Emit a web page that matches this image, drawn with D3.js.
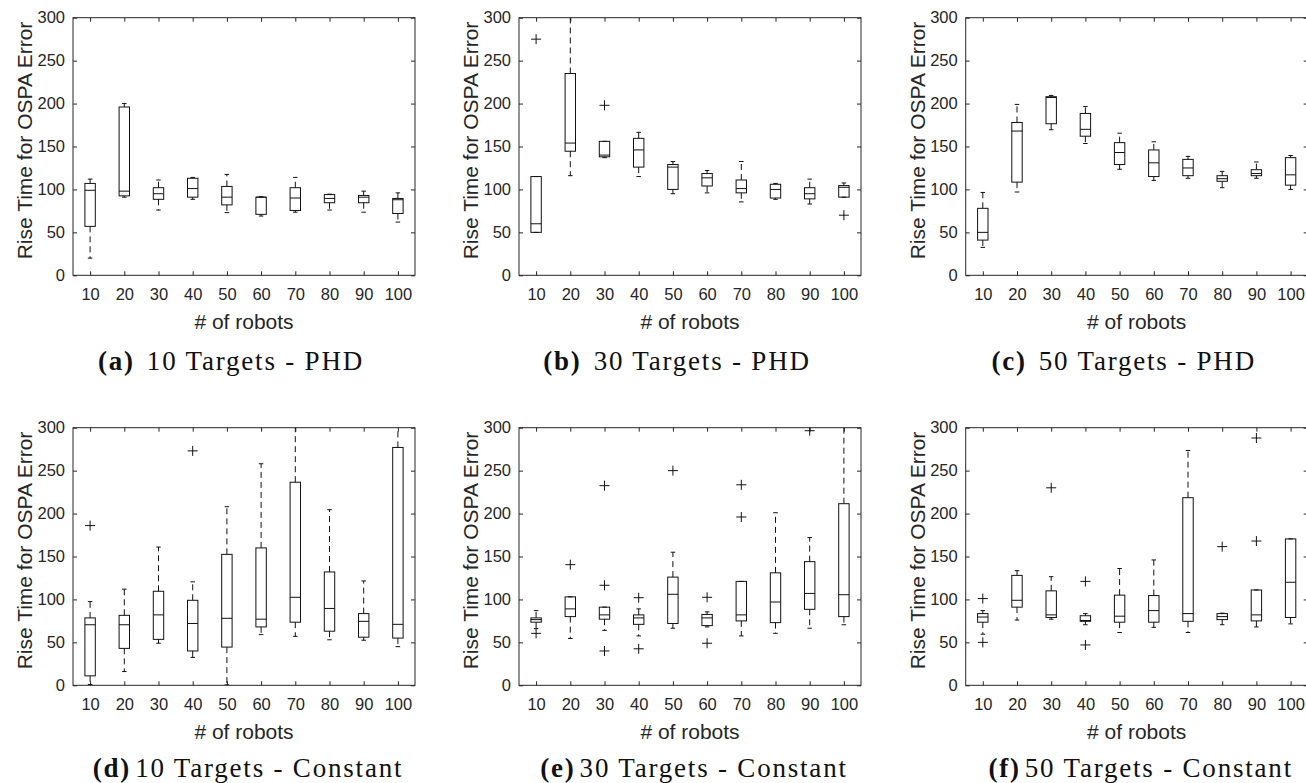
<!DOCTYPE html>
<html><head><meta charset="utf-8">
<script src="https://cdn.jsdelivr.net/npm/d3@7"></script>
<style>
body{margin:0;background:#fff;}
svg{display:block;}
</style>
</head><body>
<svg id="chart" width="1306" height="783"></svg>
<script>
// ---------- DATA ----------
const robots = [10, 20, 30, 40, 50, 60, 70, 80, 90, 100];
const yTicks = [0, 50, 100, 150, 200, 250, 300];
const yLabel = "Rise Time for OSPA Error";
const xLabel = "# of robots";

// each row: [lower whisker, Q1, median, Q3, upper whisker]
const phd10 = [
  [20, 57, 99, 107, 112], [91, 92.5, 98, 196, 200], [76, 88.5, 95, 102, 111],
  [88.5, 91, 101, 113, 114], [73, 82, 91, 103.5, 117.5], [69, 71, 91, 91, 91.5],
  [73.5, 75.5, 90, 102, 114], [76, 84.5, 89.5, 94, 94.5], [73.5, 84.5, 91, 93, 98],
  [62, 72, 88, 89.5, 96]
];
const phd10Out = [];

const phd30 = [
  [50, 50, 60, 115, 115], [116, 144.5, 154, 235, 310], [137, 138, 140, 156, 156],
  [115, 126, 146, 159.5, 166.5], [95, 100, 126, 129, 132.5], [96, 104, 113.5, 118.5, 122],
  [85.5, 96, 101, 111, 132.5], [88.5, 90, 100, 106, 107], [83, 89, 95, 102, 112],
  [91, 91, 102.5, 104.5, 107.5]
];
const phd30Out = [[10, 275], [30, 198], [100, 70]];

const phd50 = [
  [32.5, 41, 50, 78, 96.5], [97, 108.5, 168, 178, 199], [169.5, 176.5, 207, 208, 209.5],
  [153.5, 162, 170, 188.5, 196.5], [123.5, 129, 143, 154.5, 165.5], [110.5, 115, 131, 146, 155.5],
  [113, 116, 125, 135, 138.5], [102, 109.5, 112.5, 116, 121], [113, 116, 118.5, 123, 132],
  [100, 105, 117, 137, 139.5]
];
const phd50Out = [];

const const10 = [
  [1, 11, 70.5, 78.5, 97.5], [16, 43, 70.5, 81.5, 112], [49, 53.5, 82, 109.5, 161],
  [32.5, 40, 72, 99, 120.5], [0.5, 44.5, 78, 152.5, 208], [59, 68, 77, 160, 258],
  [57, 73.5, 102.5, 236.5, 310], [53, 63, 89.5, 132, 204.5], [52.5, 56, 74.5, 83.5, 121.5],
  [45, 55, 71, 277, 310]
];
const const10Out = [[10, 186], [40, 273]];

const const30 = [
  [66, 73.5, 76.5, 78.5, 87], [54.5, 80, 89, 103, 103], [64, 77, 82, 91, 91],
  [57.5, 71, 78.5, 82, 89], [66.5, 72, 106, 126, 155], [68, 69.5, 78.5, 82.5, 85.5],
  [57.5, 75, 82, 121, 121], [60.5, 73, 97, 131, 201], [66.5, 88.5, 107, 144, 172],
  [70.5, 80, 105.5, 211.5, 310]
];
const const30Out = [[10, 60.5], [20, 140.5], [30, 232.5], [30, 116.5], [30, 40],
  [40, 102], [40, 42.5], [50, 250], [60, 102.5], [60, 49], [70, 233.5], [70, 196], [90, 296.5]];

const const50 = [
  [59.5, 73.5, 79.5, 83.5, 87], [76, 91, 99, 128, 133.5], [77, 79, 82, 110, 126.5],
  [70.5, 74.5, 75.5, 81, 83.5], [61.5, 73.5, 80.5, 105, 136], [67.5, 73.5, 87, 104.5, 146],
  [61.5, 74.5, 83.5, 218.5, 273.5], [70.5, 76.5, 80, 83.5, 84], [68, 75, 82, 111, 111],
  [71.5, 79, 120, 170.5, 170.5]
];
const const50Out = [[10, 101], [10, 50], [30, 230], [40, 121], [40, 47], [80, 161.5], [90, 288], [90, 168]];

const panelTags = ["(a)", "(b)", "(c)", "(d)", "(e)", "(f)"];
const panelTitles = ["10 Targets - PHD", "30 Targets - PHD", "50 Targets - PHD",
  "10 Targets - Constant", "30 Targets - Constant", "50 Targets - Constant"];
const panelStats = [phd10, phd30, phd50, const10, const30, const50];
const panelOut = [phd10Out, phd30Out, phd50Out, const10Out, const30Out, const50Out];

// ---------- LAYOUT ----------
const W = 342, H = 257.6;
const lefts = [73, 519, 965.7];
const tops = [17.7, 427.7];
const axisColor = "#262626";
const sans = "'Liberation Sans', Arial, Helvetica, sans-serif";
const serif = "'Liberation Serif', 'Times New Roman', serif";
const boxW = 10.4, capW = 4.5, plusR = 5;

const svg = d3.select("#chart");

panelStats.forEach((stats, i) => {
  const col = i % 3, row = Math.floor(i / 3);
  const g = svg.append("g").attr("transform", `translate(${lefts[col]},${tops[row]})`);
  const x = d3.scalePoint().domain(robots).range([0, W]).padding(0.5);
  const y = d3.scaleLinear().domain([0, 300]).range([H, 0]);

  const clipId = "clip" + i;
  g.append("clipPath").attr("id", clipId).append("rect")
    .attr("x", 0).attr("y", 0).attr("width", W).attr("height", H);

  // axes
  const styleAxis = sel => {
    sel.selectAll(".domain").remove();
    sel.selectAll("line").attr("stroke", axisColor);
    sel.selectAll("text").attr("fill", axisColor).style("font-family", sans).style("font-size", "16.5px");
  };
  g.append("g").attr("transform", `translate(0,${H})`)
    .call(d3.axisBottom(x).tickSize(-4).tickSizeOuter(0).tickPadding(13))
    .call(styleAxis);
  g.append("g")
    .call(d3.axisTop(x).tickSize(-4).tickSizeOuter(0).tickFormat(""))
    .call(styleAxis);
  g.append("g")
    .call(d3.axisLeft(y).tickValues(yTicks).tickSize(-4).tickSizeOuter(0).tickPadding(8))
    .call(styleAxis);
  g.append("g").attr("transform", `translate(${W},0)`)
    .call(d3.axisRight(y).tickValues(yTicks).tickSize(-4).tickSizeOuter(0).tickFormat(""))
    .call(styleAxis);
  g.append("rect").attr("x", 0).attr("y", 0).attr("width", W).attr("height", H)
    .attr("fill", "none").attr("stroke", axisColor).attr("stroke-width", 1);

  // boxes
  const bg = g.append("g").attr("clip-path", `url(#${clipId})`)
    .attr("stroke", "#111").attr("stroke-width", 1).attr("fill", "none");
  stats.forEach((s, k) => {
    const cx = x(robots[k]);
    const [lo, q1, med, q3, hi] = s;
    bg.append("line").attr("x1", cx).attr("x2", cx).attr("y1", y(q3)).attr("y2", y(hi))
      .attr("stroke-dasharray", "6,4");
    bg.append("line").attr("x1", cx).attr("x2", cx).attr("y1", y(q1)).attr("y2", y(lo))
      .attr("stroke-dasharray", "6,4");
    bg.append("line").attr("x1", cx - capW / 2).attr("x2", cx + capW / 2).attr("y1", y(hi)).attr("y2", y(hi));
    bg.append("line").attr("x1", cx - capW / 2).attr("x2", cx + capW / 2).attr("y1", y(lo)).attr("y2", y(lo));
    bg.append("rect").attr("x", cx - boxW / 2).attr("width", boxW)
      .attr("y", y(q3)).attr("height", Math.max(0.5, y(q1) - y(q3)));
    bg.append("line").attr("x1", cx - boxW / 2).attr("x2", cx + boxW / 2).attr("y1", y(med)).attr("y2", y(med));
  });
  panelOut[i].forEach(o => {
    const cx = x(o[0]), cy = y(o[1]);
    bg.append("path").attr("d", `M${cx - plusR},${cy}H${cx + plusR}M${cx},${cy - plusR}V${cy + plusR}`);
  });

  // labels
  g.append("text").attr("x", W / 2).attr("y", H + 54)
    .attr("text-anchor", "middle").attr("fill", axisColor)
    .style("font-family", sans).style("font-size", "21px").text(xLabel);
  g.append("text").attr("transform", `translate(-41,${H / 2 - 6}) rotate(-90)`)
    .attr("text-anchor", "middle").attr("fill", axisColor)
    .style("font-family", sans).style("font-size", "21px").text(yLabel);
  const cap = g.append("text")
    .attr("x", row === 0 ? W / 2 - 13 : W / 2 + 4)
    .attr("y", row === 0 ? H + 95 : H + 91.5)
    .attr("text-anchor", "middle").attr("fill", "#111")
    .style("font-family", serif).style("font-size", "27px").style("letter-spacing", "1.8px");
  cap.append("tspan").attr("font-weight", "bold").text(panelTags[i]);
  cap.append("tspan").attr("dx", row === 0 ? 12 : 4).text(panelTitles[i]);
});
</script>
</body></html>
